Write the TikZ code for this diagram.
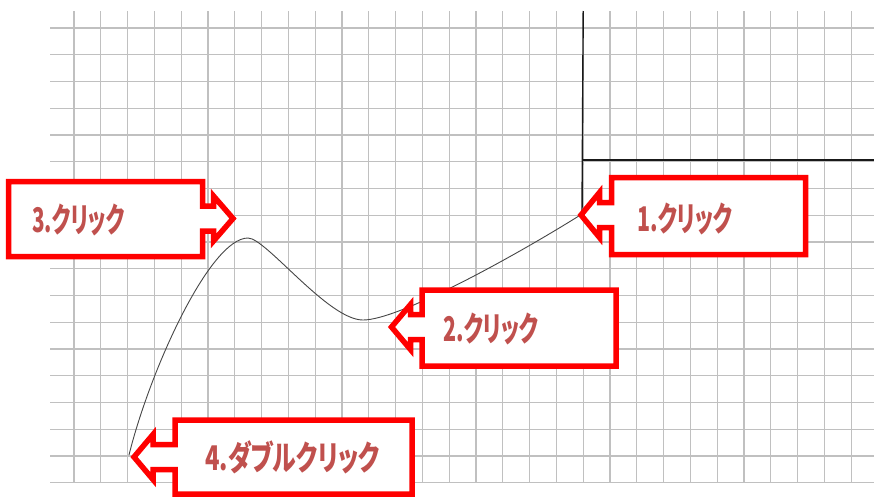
\documentclass[tikz,border=0pt]{standalone}
\usepackage{fontspec}
\usepackage{graphicx}
\newfontfamily\jpfont[RawFeature=+palt]{Noto Sans CJK JP}
\definecolor{txtred}{RGB}{192,80,77}
\definecolor{gridgray}{RGB}{192,192,192}
\definecolor{curvegray}{RGB}{70,70,70}
\tikzset{
  gridline/.style={draw=gridgray, line width=1.2pt},
  axisline/.style={draw=black!90, line width=1.4pt},
  curveline/.style={draw=curvegray, line width=0.9pt},
  callout/.style={draw=red, fill=white, line width=5.5pt, line join=miter, miter limit=10},
  lbl/.style={text=txtred, inner sep=0pt, font=\jpfont\bfseries\fontsize{34}{34}\selectfont}
}
\begin{document}
\begin{tikzpicture}[x=1pt,y=-1pt]
\useasboundingbox (0,0) rectangle (874,498);
% grid
\foreach \i in {0,...,17} \draw[gridline] (50,{28+26.75*\i}) -- (874,{28+26.75*\i});
\foreach \i in {0,...,29} \draw[gridline] ({74+26.8*\i},11) -- ({74+26.8*\i},482.75);
% axes
\coordinate (c1) at (582,214);
\coordinate (c2) at (363,320);
\coordinate (c3) at (248,238);
\coordinate (c4) at (129,455);
\coordinate (ax) at (583.2,11);
\coordinate (ao) at (583.2,160);
\coordinate (ar) at (874,160);
\draw[axisline] (ax) -- (c1 |- c1);
\draw[axisline] (ao) -- (ar);
% curve
\draw[curveline] (c1) .. controls (520,253) and (400,320) .. (c2)
  .. controls (328,320) and (266,238) .. (c3)
  .. controls (210,238) and (150,370) .. (c4);
% callout 1 (points left)
\draw[callout] (611.5,177.5) -- (805.5,177.5) -- (805.5,254.5) -- (611.5,254.5) -- (611.5,227.5) -- (599.5,227.5) -- (599.5,237.5) -- (581,215) -- (599.5,192.5) -- (599.5,202.5) -- (611.5,202.5) -- cycle;
% callout 2 (points left)
\draw[callout] (422,290) -- (616,290) -- (616,366) -- (422,366) -- (422,339.5) -- (410.5,339.5) -- (410.5,349.5) -- (391.5,327) -- (410.5,304.5) -- (410.5,314.5) -- (422,314.5) -- cycle;
% callout 3 (points right)
\draw[callout] (8.5,181.5) -- (202.5,181.5) -- (202.5,206) -- (213.5,206) -- (213.5,196) -- (233,218.5) -- (213.5,241) -- (213.5,231) -- (202.5,231) -- (202.5,256.5) -- (8.5,256.5) -- cycle;
% callout 4 (points left)
\draw[callout] (175,420) -- (412,420) -- (412,494) -- (175,494) -- (175,469.5) -- (153,469.5) -- (153,479.5) -- (134,457) -- (153,434.5) -- (153,444.5) -- (175,444.5) -- cycle;
% labels
\node[lbl, anchor=west] (t1) at (637,218.5) {\scalebox{0.63}[1]{1.クリック}};
\node[lbl, anchor=west] (t2) at (443,329) {\scalebox{0.63}[1]{2.クリック}};
\node[lbl, anchor=west] (t3) at (32,220) {\scalebox{0.61}[1]{3.クリック}};
\node[lbl, anchor=west] (t4) at (205,457) {\scalebox{0.70}[1]{4.ダブルクリック}};
\end{tikzpicture}
\end{document}
